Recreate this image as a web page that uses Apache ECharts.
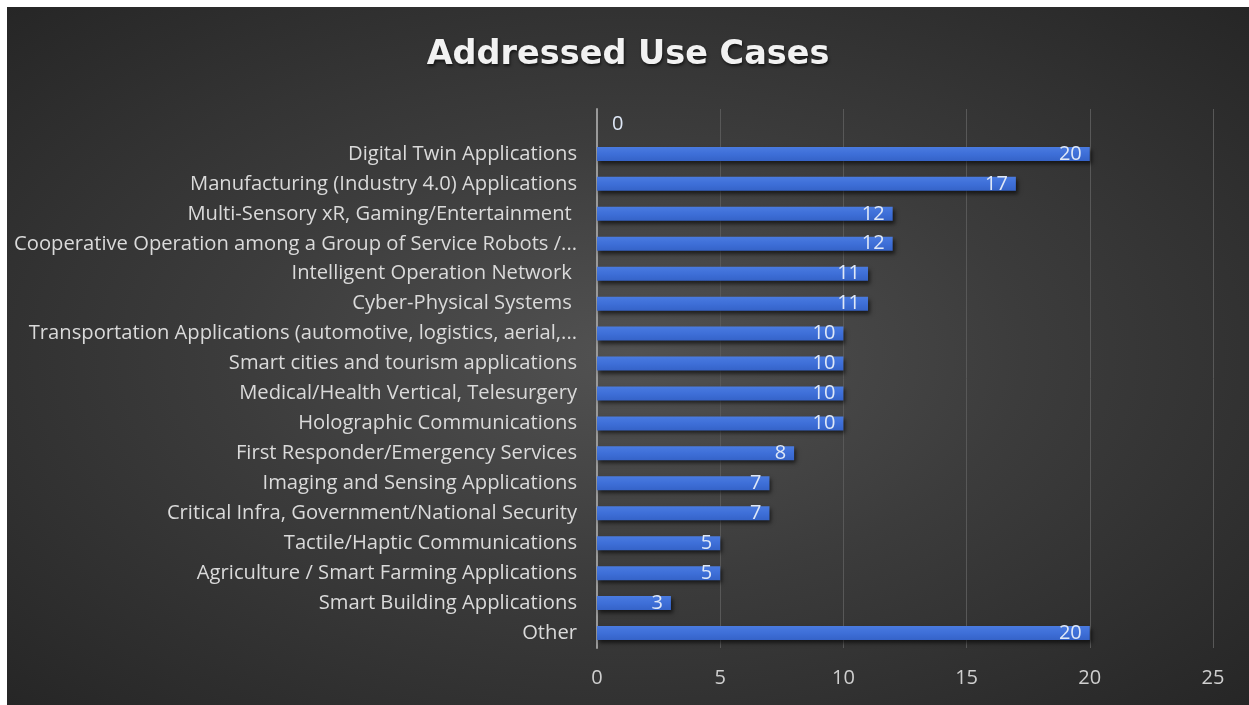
<!DOCTYPE html>
<html>
<head>
<meta charset="utf-8">
<script src="https://cdn.jsdelivr.net/npm/echarts@6/dist/echarts.min.js"></script>
<style>
html,body{margin:0;padding:0;background:#fff;}
#c{position:absolute;left:7px;top:7px;width:1242px;height:698px;
background:radial-gradient(ellipse at 50% 50%, #525252 0%, #3c3c3c 45%, #262626 100%);}
</style>
</head>
<body>
<div id="c"></div>
<script>
const categories = ['', 'Digital Twin Applications', 'Manufacturing (Industry 4.0) Applications', 'Multi-Sensory xR, Gaming/Entertainment ', 'Cooperative Operation among a Group of Service Robots /...', 'Intelligent Operation Network ', 'Cyber-Physical Systems ', 'Transportation Applications (automotive, logistics, aerial,...', 'Smart cities and tourism applications', 'Medical/Health Vertical, Telesurgery', 'Holographic Communications', 'First Responder/Emergency Services', 'Imaging and Sensing Applications', 'Critical Infra, Government/National Security', 'Tactile/Haptic Communications', 'Agriculture / Smart Farming Applications', 'Smart Building Applications', 'Other'];
const values = [0, 20, 17, 12, 12, 11, 11, 10, 10, 10, 10, 8, 7, 7, 5, 5, 3, 20];
const xTicks = [0, 5, 10, 15, 20, 25];
const titleText = 'Addressed Use Cases';

const font = '"Open Sans", sans-serif';
const chart = echarts.init(document.getElementById('c'));
const data = values.map((v, i) => i === 0
  ? {value: v, label: {position: 'insideLeft', distance: 15}}
  : v);
chart.setOption({
  animation: false,
  title: {text: titleText, left: 'center', top: 26,
    textStyle: {color: '#f2f2f2', fontSize: 33.5, fontWeight: 'bold', fontFamily: '"DejaVu Sans", sans-serif',
      textShadowColor: 'rgba(0,0,0,0.6)', textShadowBlur: 3, textShadowOffsetX: 1, textShadowOffsetY: 2}},
  grid: {left: 590, right: 36, top: 102, bottom: 57, containLabel: false},
  xAxis: {type: 'value', min: xTicks[0], max: xTicks[xTicks.length-1], interval: 5,
    axisLine: {show: false}, axisTick: {show: false},
    splitLine: {lineStyle: {color: '#585858', width: 1}},
    axisLabel: {color: '#cfcfcf', fontSize: 20, fontFamily: font, margin: 20}},
  yAxis: {type: 'category', data: categories, inverse: true,
    axisLine: {show: true, lineStyle: {color: '#9a9a9a', width: 2}},
    axisTick: {show: false},
    axisLabel: {color: '#dadada', fontSize: 20.2, fontFamily: font, margin: 20, padding: [3, 0, 0, 0]}},
  series: [{type: 'bar', data: data, barWidth: 14,
    itemStyle: {color: new echarts.graphic.LinearGradient(0,0,0,1,[
      {offset: 0, color: '#4a7be0'}, {offset: 0.5, color: '#3e6fd8'}, {offset: 1, color: '#3563c8'}]),
      shadowColor: 'rgba(0,0,0,0.6)', shadowBlur: 4, shadowOffsetX: 2, shadowOffsetY: 3},
    label: {show: true, position: 'insideRight', distance: 8, color: '#dfe8f7',
      fontSize: 20, fontFamily: font, padding: [3, 0, 0, 0]}}]
});
</script>
</body>
</html>
